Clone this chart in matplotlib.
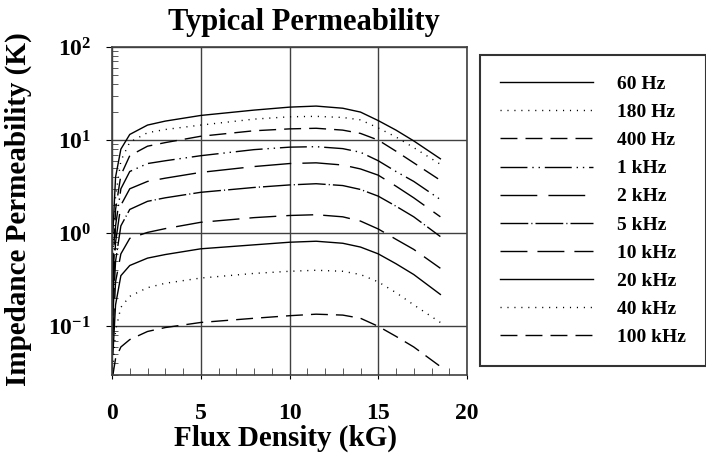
import numpy as np
import matplotlib
matplotlib.use('Agg')
import matplotlib.pyplot as plt
from matplotlib.ticker import FixedLocator, LogLocator, NullFormatter

plt.rcParams['font.family'] = ['Liberation Serif', 'DejaVu Serif']
plt.rcParams['font.weight'] = 'bold'
plt.rcParams['mathtext.fontset'] = 'custom'
plt.rcParams['mathtext.rm'] = 'Liberation Serif:bold'
plt.rcParams['mathtext.bf'] = 'Liberation Serif:bold'
plt.rcParams['mathtext.it'] = 'Liberation Serif:bold'
plt.rcParams['lines.scale_dashes'] = False

# flux density (kG) where the curves were read
flux = [0.05, 0.2, 0.5, 1, 2, 3, 5, 8, 10, 11.5, 13, 14, 15, 16, 17, 18.5]

# impedance permeability (K) for each frequency
k_60hz = [1.0, 4.0, 8.0, 11.5, 14.5, 16.0, 18.4, 21.0, 22.6, 23.2, 22.0, 20.0, 16.2, 12.8, 9.8, 6.3]
k_180hz = [0.6, 2.5, 6.0, 9.5, 12.0, 13.0, 14.5, 16.8, 17.8, 18.0, 17.5, 16.5, 13.5, 10.8, 8.3, 5.5]
k_400hz = [0.4, 1.8, 4.2, 6.8, 8.6, 9.4, 11.0, 12.6, 13.2, 13.4, 12.8, 11.8, 10.0, 7.6, 5.7, 3.7]
k_1khz = [0.3, 1.2, 3.0, 4.6, 5.6, 6.0, 6.8, 7.9, 8.4, 8.5, 8.1, 7.4, 6.0, 4.6, 3.6, 2.3]
k_2khz = [0.2, 0.8, 2.0, 3.0, 3.6, 3.9, 4.5, 5.2, 5.6, 5.7, 5.4, 4.9, 4.2, 3.2, 2.4, 1.5]
k_5khz = [0.13, 0.5, 1.2, 1.8, 2.2, 2.4, 2.75, 3.1, 3.3, 3.4, 3.25, 2.95, 2.5, 1.95, 1.5, 0.92]
k_10khz = [0.08, 0.3, 0.6, 0.88, 1.02, 1.12, 1.31, 1.47, 1.55, 1.58, 1.5, 1.35, 1.11, 0.86, 0.67, 0.42]
k_20khz = [0.05, 0.17, 0.35, 0.45, 0.54, 0.59, 0.68, 0.75, 0.8, 0.82, 0.78, 0.71, 0.6, 0.47, 0.36, 0.22]
k_40khz = [0.035, 0.09, 0.16, 0.21, 0.26, 0.29, 0.33, 0.37, 0.39, 0.4, 0.39, 0.36, 0.3, 0.23, 0.17, 0.11]
k_100khz = [0.03, 0.045, 0.06, 0.072, 0.088, 0.097, 0.11, 0.122, 0.13, 0.135, 0.132, 0.122, 0.1, 0.078, 0.06, 0.037]

labels = ['60 Hz', '180 Hz', '400 Hz', '1 kHz', '2 kHz', '5 kHz', '10 kHz', '20 kHz', '40 kHz', '100 kHz']
series = [k_60hz, k_180hz, k_400hz, k_1khz, k_2khz, k_5khz, k_10khz, k_20khz, k_40khz, k_100khz]

# dash patterns in points
styles = [
    '-',
    (0, (0.8, 4.2)),
    (0, (12.2, 5.8)),
    (0, (19.4, 3.5, 1, 3.5, 1, 3.5)),
    (0, (26.5, 8)),
    (0, (20, 2.2, 0.8, 2.2)),
    (0, (19.4, 7.2)),
    '-',
    (0, (0.8, 4.2)),
    (0, (12.2, 5.8)),
]

fig = plt.figure(figsize=(7.06, 4.55), dpi=100)
ax = fig.add_axes([112 / 706, 80 / 455, 355 / 706, 328 / 455])

for vals, lab, ls in zip(series, labels, styles):
    ax.plot(flux, vals, color='black', lw=1.0, linestyle=ls, label=lab)

ax.set_yscale('log')
ax.set_xlim(0, 20)
ax.set_ylim(0.03, 100)

# ticks
ax.xaxis.set_major_locator(FixedLocator([0, 5, 10, 15, 20]))
ax.xaxis.set_minor_locator(FixedLocator(np.arange(0, 21, 1)))
ax.yaxis.set_major_locator(FixedLocator([0.1, 1, 10, 100]))
ax.yaxis.set_minor_locator(LogLocator(base=10, subs=np.arange(2, 10)))
ax.yaxis.set_minor_formatter(NullFormatter())
ax.set_yticklabels(['$10^{-1}$', '$10^{0}$', '$10^{1}$', '$10^{2}$'])
ax.set_xticklabels(['0', '5', '10', '15', '20'])

ax.tick_params(axis='x', which='major', length=3, direction='out', pad=17, labelsize=17)
ax.tick_params(axis='x', which='minor', length=5, direction='in', color='#404040')
ax.tick_params(axis='y', which='major', length=4, direction='out', pad=11, labelsize=17)
ax.tick_params(axis='y', which='minor', length=4, direction='in', color='#404040')

ax.grid(True, which='major', color='#404040', lw=1.0)
for sp in ax.spines.values():
    sp.set_color('#404040')
    sp.set_linewidth(1.2)

# titles / labels
fig.text(304 / 706, 1 - 30 / 455, 'Typical Permeability', ha='center', va='baseline',
         fontsize=22, fontweight='bold')
fig.text(285 / 706, 1 - 446 / 455, 'Flux Density (kG)', ha='center', va='baseline',
         fontsize=21, fontweight='bold')
fig.text(18 / 706, 1 - 209 / 455, 'Impedance Permeability (K)', ha='center', va='center',
         rotation=90, fontsize=21, fontweight='bold')

leg = fig.legend(loc='upper left', bbox_to_anchor=(480 / 706, 1 - 55 / 455),
                 borderaxespad=0, borderpad=1.05, labelspacing=0.54,
                 handlelength=4.75, handletextpad=1.23, fancybox=False,
                 prop={'family': 'Liberation Serif', 'weight': 'bold', 'size': 14})
leg.get_frame().set_edgecolor('black')
leg.get_frame().set_linewidth(1.5)

fig.savefig('out.png', dpi=100)
